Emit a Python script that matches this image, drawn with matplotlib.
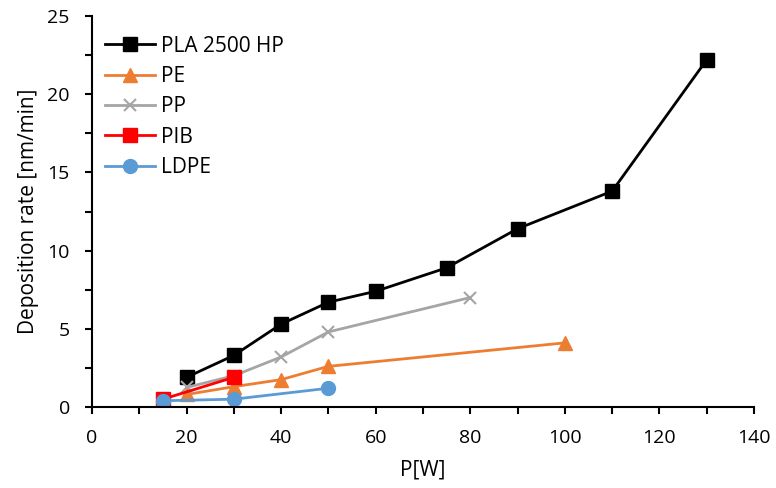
import matplotlib
matplotlib.use("Agg")
import matplotlib.pyplot as plt
from matplotlib.ticker import MultipleLocator

plt.rcParams['font.family'] = ['Open Sans', 'DejaVu Sans']

pla_x = [20, 30, 40, 50, 60, 75, 90, 110, 130]
pla_y = [1.9, 3.3, 5.3, 6.7, 7.4, 8.9, 11.4, 13.8, 22.2]
pe_x = [20, 30, 40, 50, 100]
pe_y = [0.8, 1.3, 1.75, 2.6, 4.1]
pp_x = [20, 30, 40, 50, 80]
pp_y = [1.25, 2.0, 3.2, 4.8, 7.0]
pib_x = [15, 30]
pib_y = [0.5, 1.9]
ldpe_x = [15, 30, 50]
ldpe_y = [0.4, 0.5, 1.2]

fig = plt.figure(figsize=(7.76, 4.88), dpi=100)
ax = fig.add_axes([92 / 776, (488 - 407) / 488, (754 - 92) / 776, (407 - 16) / 488])

ax.plot(pla_x, pla_y, color='black', lw=2, marker='s', ms=10, label='PLA 2500 HP')
ax.plot(pe_x, pe_y, color='#ED7D31', lw=2, marker='^', ms=10, label='PE')
ax.plot(pp_x, pp_y, color='#A5A5A5', lw=2, marker='x', ms=9, mew=1.5, label='PP')
ax.plot(pib_x, pib_y, color='#FF0000', lw=2, marker='s', ms=10, label='PIB')
ax.plot(ldpe_x, ldpe_y, color='#5B9BD5', lw=2, marker='o', ms=10, label='LDPE')

ax.set_xlim(0, 140)
ax.set_ylim(0, 25)
ax.set_xticks(range(0, 141, 20))
ax.set_yticks(range(0, 26, 5))
ax.xaxis.set_minor_locator(MultipleLocator(10))
ax.yaxis.set_minor_locator(MultipleLocator(2.5))
ax.spines['top'].set_visible(False)
ax.spines['right'].set_visible(False)
ax.spines['left'].set_linewidth(1.5)
ax.spines['bottom'].set_linewidth(1.5)
ax.tick_params(which='both', direction='out', length=5, width=1.5)
ax.tick_params(which='major', labelsize=14, pad=11)
ax.set_xlabel('P[W]', fontsize=15, labelpad=9)
ax.set_ylabel('Deposition rate [nm/min]', fontsize=15, labelpad=6)

ax.legend(loc='upper left', frameon=False, fontsize=15, handlelength=2.4,
          handletextpad=0.3, labelspacing=0.45, borderaxespad=0.2,
          bbox_to_anchor=(0.0, 0.982))

fig.savefig('out.png', dpi=100)
